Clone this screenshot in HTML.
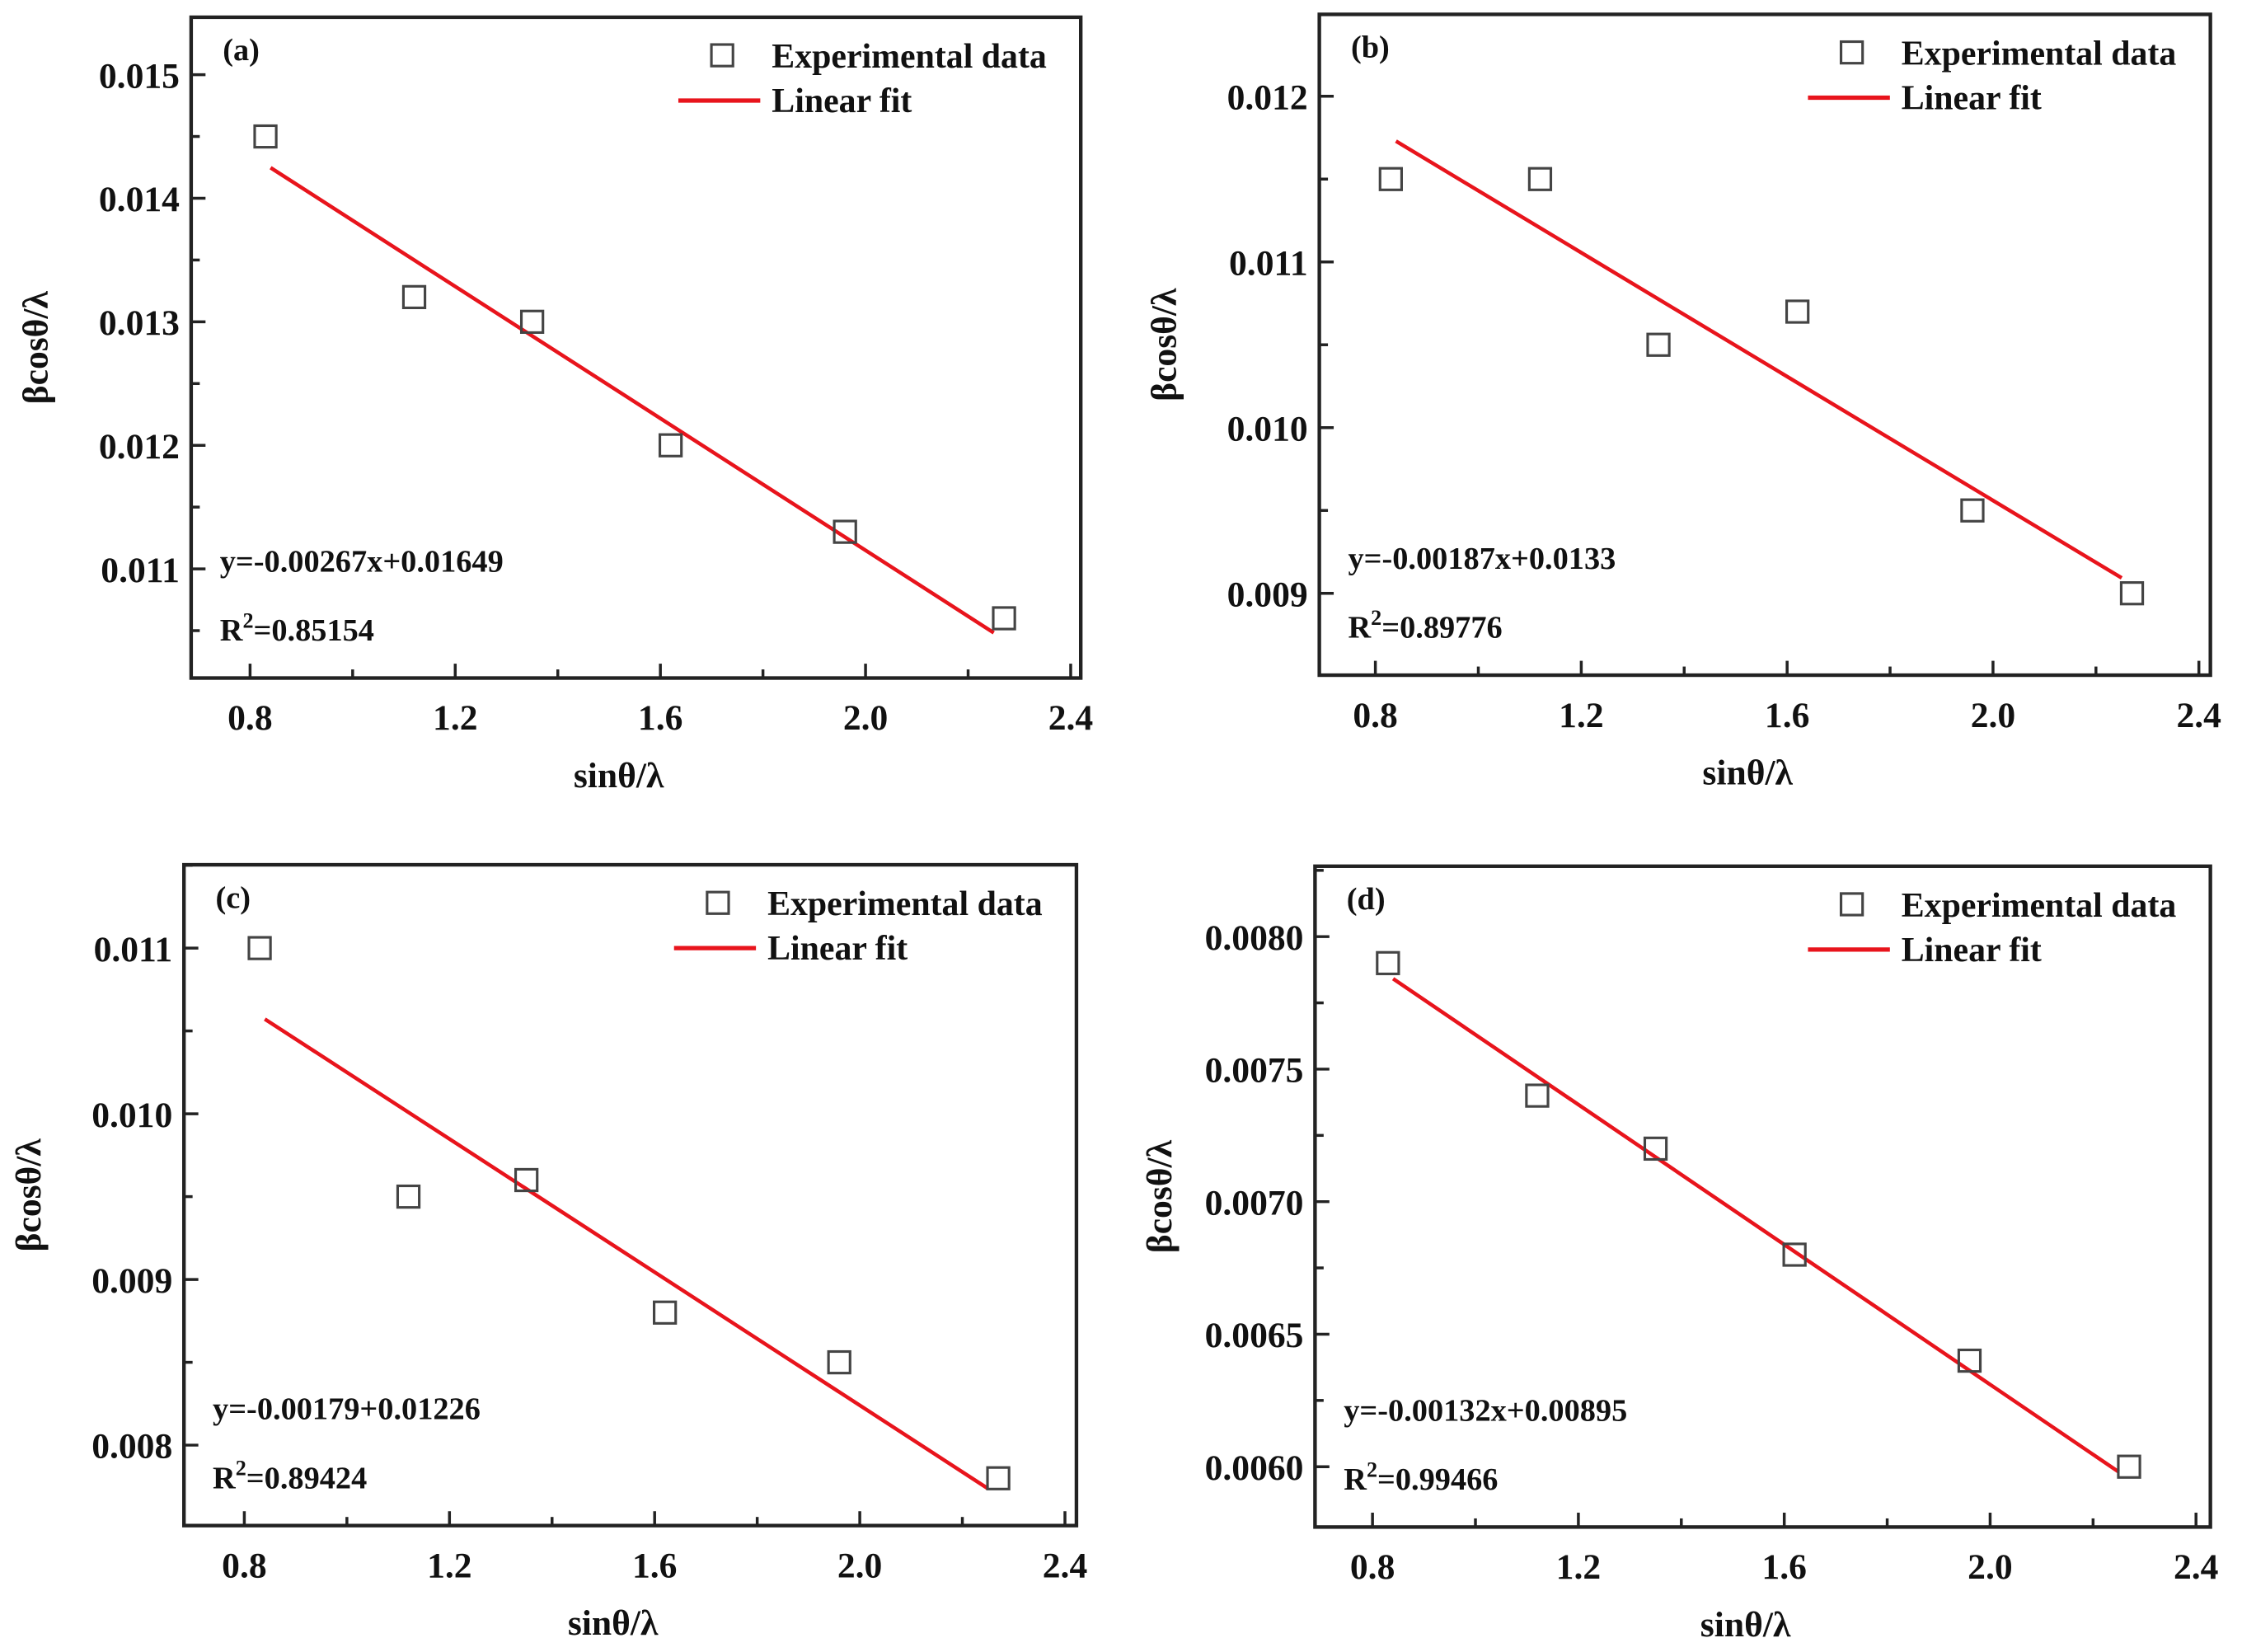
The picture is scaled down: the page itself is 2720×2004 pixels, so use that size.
<!DOCTYPE html>
<html><head><meta charset="utf-8">
<style>
html,body{margin:0;padding:0;background:#fff;}
svg{display:block;}
text{font-family:"Liberation Serif",serif;font-weight:bold;fill:#111;}
</style></head>
<body>
<svg id="fig" width="2720" height="2004" viewBox="0 0 1560 1150" preserveAspectRatio="none" xmlns="http://www.w3.org/2000/svg"></svg>
<script>
const xValues = [0.83, 1.12, 1.35, 1.62, 1.96, 2.27];
const yA = [0.0145, 0.0132, 0.0130, 0.0120, 0.0113, 0.0106];
const yB = [0.0115, 0.0115, 0.0105, 0.0107, 0.0095, 0.0090];
const yC = [0.0110, 0.0095, 0.0096, 0.0088, 0.0085, 0.0078];
const yD = [0.0079, 0.0074, 0.0072, 0.0068, 0.0064, 0.0060];
const slopes = [-0.00267, -0.00187, -0.00201, -0.00132];
const intercepts = [0.01649, 0.0133, 0.01226, 0.00895];
const xTicks = [0.8, 1.2, 1.6, 2.0, 2.4];
const xTickLabels = ["0.8", "1.2", "1.6", "2.0", "2.4"];
const yTicksA = [0.011, 0.012, 0.013, 0.014, 0.015];
const yTicksB = [0.009, 0.010, 0.011, 0.012];
const yTicksC = [0.008, 0.009, 0.010, 0.011];
const yTicksD = [0.0060, 0.0065, 0.0070, 0.0075, 0.0080];
const yLabelsA = ["0.011", "0.012", "0.013", "0.014", "0.015"];
const yLabelsB = ["0.009", "0.010", "0.011", "0.012"];
const yLabelsC = ["0.008", "0.009", "0.010", "0.011"];
const yLabelsD = ["0.0060", "0.0065", "0.0070", "0.0075", "0.0080"];
const eqTexts = ["y=-0.00267x+0.01649", "y=-0.00187x+0.0133", "y=-0.00179+0.01226", "y=-0.00132x+0.00895"];
const r2Texts = ["0.85154", "0.89776", "0.89424", "0.99466"];
const panelLetters = ["(a)", "(b)", "(c)", "(d)"];

const NS = "http://www.w3.org/2000/svg";
const svg = document.getElementById("fig");
function mk(tag, attrs, parent, txt) {
  const e = document.createElementNS(NS, tag);
  for (const k in attrs) e.setAttribute(k, attrs[k]);
  if (txt !== undefined) e.textContent = txt;
  (parent || svg).appendChild(e);
  return e;
}
const panels = [
  {L:133,R:752,T:12,B:472, x08:174,x24:745, ys:yA, yt:yTicksA, yl:yLabelsA, yp0:396, yp1:52},
  {L:918,R:1538,T:10,B:470, x08:957,x24:1530, ys:yB, yt:yTicksB, yl:yLabelsB, yp0:413, yp1:67},
  {L:128,R:749,T:602,B:1062, x08:170,x24:741, ys:yC, yt:yTicksC, yl:yLabelsC, yp0:1006, yp1:660},
  {L:915,R:1538,T:603,B:1063, x08:955,x24:1528, ys:yD, yt:yTicksD, yl:yLabelsD, yp0:1021, yp1:652}
];
panels.forEach((p, i) => {
  const g = mk("g", {});
  
  
  const sx = v => p.x08 + (v - 0.8) / 1.6 * (p.x24 - p.x08);
  const y0 = p.yt[0], y1 = p.yt[p.yt.length - 1];
  const sy = v => p.yp0 + (v - y0) / (y1 - y0) * (p.yp1 - p.yp0);
  const fr = mk("rect", {x:p.L, y:p.T, width:p.R-p.L, height:p.B-p.T, fill:"none", stroke:"#222", "stroke-width":2.5}, g);
  
  
  for (let v = 0.8; v <= 2.41; v += 0.2) {
    const X = sx(v), major = Math.abs(Math.round(v*10) % 4) === 0;
    mk("line", {x1:X, x2:X, y1:p.B, y2:p.B - (major ? 10 : 6), stroke:"#222", "stroke-width":2}, g);
  }
  xTicks.forEach((v, k) => {
    const t = mk("text", {x:sx(v), y:p.B + 36, "text-anchor":"middle", "font-size":25}, g, xTickLabels[k]);
    
    
  });
  const step = p.yt[1] - p.yt[0];
  for (let k = -1; k < p.yt.length + 1; k++) {
    const v = y0 + k * step, Y = sy(v);
    if (Y > p.T && Y < p.B) mk("line", {x1:p.L, x2:p.L + 10, y1:Y, y2:Y, stroke:"#222", "stroke-width":2}, g);
    const Ym = sy(v + step / 2);
    if (Ym > p.T && Ym < p.B) mk("line", {x1:p.L, x2:p.L + 6, y1:Ym, y2:Ym, stroke:"#222", "stroke-width":2}, g);
  }
  p.yt.forEach((v, k) => {
    const t = mk("text", {x:p.L - 8, y:sy(v) + 9, "text-anchor":"end", "font-size":25}, g, p.yl[k]);
    
    
  });
  const xt = mk("text", {x:(p.L+p.R)/2 - 12, y:p.B + 76, "text-anchor":"middle", "font-size":25}, g, "sinθ/λ");
  
  
  const yc = (p.T + p.B) / 2, yx = p.L - 100;
  const yt = mk("text", {x:yx, y:yc, "text-anchor":"middle", "font-size":25, transform:`rotate(-90 ${yx} ${yc})`}, g, "βcosθ/λ");
  
  
  const xa = 0.84, xb = 2.25;
  const fit = mk("line", {x1:sx(xa), y1:sy(slopes[i]*xa + intercepts[i]), x2:sx(xb), y2:sy(slopes[i]*xb + intercepts[i]), stroke:"#e8141c", "stroke-width":2.6}, g);
  
  
  xValues.forEach((xv, k) => {
    const r = mk("rect", {x:sx(xv) - 7.5, y:sy(p.ys[k]) - 7.5, width:15, height:15, fill:"none", stroke:"#444", "stroke-width":1.8}, g);
    
    
  });
  const pl = mk("text", {x:p.L + 22, y:p.T + 30, "font-size":22}, g, panelLetters[i]);
  
  
  const lg = mk("g", {}, g);
  
  
  const tx = p.R - 215;
  mk("rect", {x:tx - 42, y:p.T + 19, width:15, height:15, fill:"none", stroke:"#444", "stroke-width":1.8}, lg);
  mk("text", {x:tx, y:p.T + 35, "font-size":24}, lg, "Experimental data");
  mk("line", {x1:p.R - 280, x2:p.R - 223, y1:p.T + 58, y2:p.T + 58, stroke:"#e8141c", "stroke-width":3}, lg);
  mk("text", {x:tx, y:p.T + 66, "font-size":24}, lg, "Linear fit");
  const eq = mk("text", {x:p.L + 20, y:p.B - 74, "font-size":22}, g, eqTexts[i]);
  
  
  const r2 = mk("text", {x:p.L + 20, y:p.B - 26, "font-size":22}, g);
  
  
  mk("tspan", {}, r2, "R");
  mk("tspan", {dy:-9, "font-size":15}, r2, "2");
  mk("tspan", {dy:9}, r2, "=" + r2Texts[i]);
});
</script>
</body></html>
